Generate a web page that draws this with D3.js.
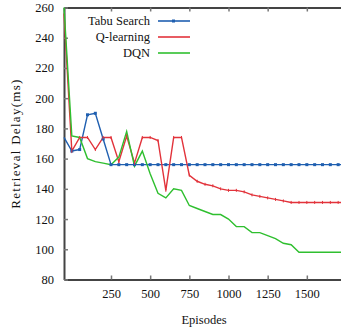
<!DOCTYPE html>
<html>
<head>
<meta charset="utf-8">
<script src="https://cdn.jsdelivr.net/npm/d3@7"></script>
<style>
  body { margin: 0; background: #fff; }
  svg text { font-family: "Liberation Serif", "DejaVu Serif", serif !important; fill: #111; }
</style>
</head>
<body>
<div id="chart"></div>
<script>
// Data (episodes every 50)
const episodes = [-50, 0, 50, 100, 150, 200, 250, 300, 350, 400, 450, 500, 550, 600,
  650, 700, 750, 800, 850, 900, 950, 1000, 1050, 1100, 1150, 1200, 1250, 1300,
  1350, 1400, 1450, 1500, 1550, 1600, 1650, 1700, 1750];
const tabuSearch = [174, 165, 166, 189, 190, 173, 156, 156, 156, 156, 156, 156, 156, 156,
  156, 156, 156, 156, 156, 156, 156, 156, 156, 156, 156, 156, 156, 156,
  156, 156, 156, 156, 156, 156, 156, 156, 156];
const qLearning = [256, 165, 174, 174, 166, 174, 174, 158, 175, 157, 174, 174, 172, 139,
  174, 174, 149, 145, 143, 142, 140, 139, 139, 138, 136, 135, 134, 133,
  132, 131, 131, 131, 131, 131, 131, 131, 131];
const dqn = [260, 175, 174, 160, 158, 157, 156, 161, 178, 155, 165, 150, 137, 134,
  140, 139, 129, 127, 125, 123, 123, 120, 115, 115, 111, 111, 109, 107,
  104, 103, 98, 98, 98, 98, 98, 98, 98];
const seriesNames = ["Tabu Search", "Q-learning", "DQN"];
const seriesColors = ["#1f5fb0", "#e2333b", "#2fbf2f"];
const yTicks = [80, 100, 120, 140, 160, 180, 200, 220, 240, 260];
const xTicks = [250, 500, 750, 1000, 1250, 1500];

const W = 341, H = 333;
const MARGIN = {LEFT: 64, TOP: 7.5, RIGHT: -5, BOTTOM: 53.5};

const svg = d3.select("#chart").append("svg")
  .attr("width", W)
  .attr("height", H);

const x = d3.scaleLinear()
  .domain([-50, 1750])
  .range([MARGIN.LEFT, W - MARGIN.RIGHT]);
const y = d3.scaleLinear()
  .domain([80, 260])
  .range([H - MARGIN.BOTTOM, MARGIN.TOP]);

const series = [tabuSearch, qLearning, dqn].map((vals, i) => ({
  name: seriesNames[i],
  color: seriesColors[i],
  values: vals.map((v, j) => ({e: episodes[j], v: v}))
}));

// ticks (inward) on all sides
const axisColor = "#444";
const bottomAxis = svg.append("g")
  .attr("transform", `translate(0,${y(80)})`)
  .call(d3.axisBottom(x).tickValues(xTicks).tickFormat(d3.format("d"))
    .tickSizeInner(-4).tickSizeOuter(0).tickPadding(10));
const topAxis = svg.append("g")
  .attr("transform", `translate(0,${y(260)})`)
  .call(d3.axisTop(x).tickValues(xTicks).tickSizeInner(-4).tickSizeOuter(0).tickFormat(""));
const leftAxis = svg.append("g")
  .attr("transform", `translate(${x(-50)},0)`)
  .call(d3.axisLeft(y).tickValues(yTicks).tickSizeInner(-4).tickSizeOuter(0).tickPadding(10));

[bottomAxis, topAxis, leftAxis].forEach(a => {
  a.attr("font-size", 12.5);
  a.select(".domain").attr("stroke", axisColor).attr("stroke-width", 2);
  a.selectAll(".tick line").attr("stroke", "#777").attr("stroke-width", 1.5);
  a.selectAll(".tick text").attr("fill", "#111");
});

// lines
const line = d3.line().x(d => x(d.e)).y(d => y(d.v));
const lines = svg.append("g");
series.forEach(s => {
  lines.append("path")
    .datum(s.values)
    .attr("fill", "none")
    .attr("stroke", s.color)
    .attr("stroke-width", 1.4)
    .attr("d", line);
});

// markers: blue squares, red small ticks
lines.selectAll(".tabu-pt")
  .data(series[0].values.slice(1))
  .join("rect")
  .attr("x", d => x(d.e) - 1.5)
  .attr("y", d => y(d.v) - 1.5)
  .attr("width", 3)
  .attr("height", 3)
  .attr("fill", series[0].color);
lines.selectAll(".q-pt")
  .data(series[1].values.slice(1))
  .join("line")
  .attr("x1", d => x(d.e)).attr("x2", d => x(d.e))
  .attr("y1", d => y(d.v) - 1.5).attr("y2", d => y(d.v) + 1.5)
  .attr("stroke", series[1].color)
  .attr("stroke-width", 1);

// legend
const legend = svg.append("g");
series.forEach((s, i) => {
  const ly = 21 + i * 16;
  legend.append("text")
    .attr("x", 150)
    .attr("y", ly + 4)
    .attr("text-anchor", "end")
    .attr("font-size", 12.5)
    .text(s.name);
  legend.append("line")
    .attr("x1", 158).attr("x2", 190)
    .attr("y1", ly).attr("y2", ly)
    .attr("stroke", s.color)
    .attr("stroke-width", 1.6);
  if (i === 0) {
    legend.append("rect")
      .attr("x", 172).attr("y", ly - 1.5)
      .attr("width", 3).attr("height", 3)
      .attr("fill", s.color);
  }
});

// axis titles
svg.append("text")
  .attr("x", 204)
  .attr("y", 324)
  .attr("text-anchor", "middle")
  .attr("font-size", 12.5)
  .text("Episodes");
svg.append("text")
  .attr("transform", `translate(20,${(y(80) + y(260)) / 2}) rotate(-90)`)
  .attr("text-anchor", "middle")
  .attr("font-size", 13)
  .attr("letter-spacing", 1.3)
  .text("Retrieval Delay(ms)");
</script>
</body>
</html>
